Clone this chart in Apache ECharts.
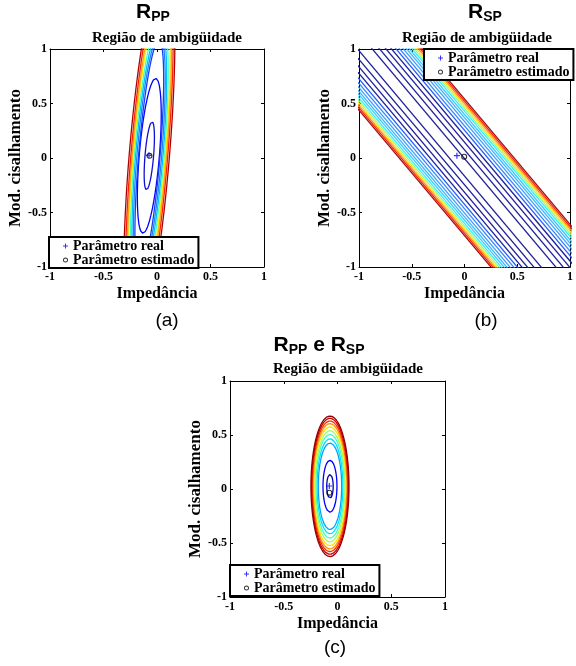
<!DOCTYPE html>
<html>
<head>
<meta charset="utf-8">
<title>Região de ambigüidade</title>
<script src="https://cdn.jsdelivr.net/npm/echarts@6/dist/echarts.min.js"></script>
<style>
html, body { margin: 0; padding: 0; background: #fff; }
#chart { width: 576px; height: 666px; }
</style>
</head>
<body>
<div id="chart"></div>
<script>
// axis range / ticks (same on every panel)
var axisMin = -1, axisMax = 1, axisStep = 0.5;

// (a) R_PP : tilted ellipses (centre, tilt = dx per unit of y)
var ppCenter = [-0.072, 0.02];
var ppTilt = 0.085;
var ppMinor = [0.04, 0.094, 0.10, 0.115, 0.128, 0.14, 0.15, 0.16, 0.172, 0.188];
var ppMajor = [0.314, 0.713, 1.064, 1.116, 1.185, 1.279, 1.474, 1.57, 1.69, 1.757];
var ppColors = ['#1010d0', '#0000ff', '#1040ff', '#2080ff', '#00c0ff', '#40ffc0',
                '#f0f000', '#ffa000', '#ff2000', '#b00000'];
var ppReal = [-0.075, 0.025];
var ppEst = [-0.07, 0.02];

// (b) R_SP : parallel lines  y = intercept + slope*x +/- offset
var spSlope = -1.15;
var spIntercept = -0.085;
var spOffset = [0.08, 0.16, 0.23, 0.29, 0.34, 0.38, 0.42, 0.455, 0.485, 0.515,
                0.54, 0.563, 0.585, 0.606, 0.627];
var spColors = ['#20209a', '#20209a', '#20209a', '#20209a', '#2060ff', '#3888ff', '#40a0ff',
                '#40b4ff', '#40c8ff', '#30f0ff', '#90ff90', '#ffe020', '#ff9010', '#ff2010', '#a01010'];
var spReal = [-0.072, 0.021];
var spEst = [-0.003, 0.012];

// (c) R_PP e R_SP : upright ellipses
var jCenter = [-0.07, 0.025];
var jMajor = [0.11, 0.24, 0.40, 0.44, 0.48, 0.515, 0.55, 0.58, 0.605, 0.63, 0.651];
var jMinor = [0.03, 0.065, 0.109, 0.12, 0.131, 0.14, 0.15, 0.158, 0.165, 0.171, 0.177];
var jColors = ['#0000b0', '#0000ff', '#00a0ff', '#00e0ff', '#40ffc0', '#a0ff60',
               '#ffe000', '#ff9000', '#ff3000', '#d00000', '#900000'];
var jReal = [-0.076, 0.028];
var jEst = [-0.076, -0.034];

var grids = [
  { left: 50, top: 49, width: 214, height: 218 },
  { left: 359, top: 49, width: 214, height: 218 },
  { left: 230, top: 381, width: 215, height: 216 }
];

var serif = 'Liberation Serif';
var sans = 'Liberation Sans';
var plusPath = 'path://M2,0H3V2H5V3H3V5H2V3H0V2H2Z';
var ringPath = 'path://M5,0A5,5,0,1,1,5,10A5,5,0,1,1,5,0ZM5,1.8A3.2,3.2,0,1,0,5,8.2A3.2,3.2,0,1,0,5,1.8Z';

function ellipse(c, tilt, a, b) {
  var n = Math.sqrt(1 + tilt * tilt);
  var dx = tilt / n, dy = 1 / n, px = 1 / n, py = -tilt / n;
  var pts = [];
  for (var i = 0; i <= 180; i++) {
    var t = i / 180 * 2 * Math.PI;
    var u = b * Math.cos(t), v = a * Math.sin(t);
    pts.push([c[0] + u * px + v * dx, c[1] + u * py + v * dy]);
  }
  return pts;
}

function contour(idx, data, color) {
  return {
    type: 'line', xAxisIndex: idx * 2, yAxisIndex: idx * 2,
    data: data, showSymbol: false, symbol: 'none', silent: true,
    animation: false, clip: true, z: 2,
    lineStyle: { color: color, width: 1.3 }
  };
}

var series = [];
ppMajor.forEach(function (a, i) {
  series.push(contour(0, ellipse(ppCenter, ppTilt, a, ppMinor[i]), ppColors[i]));
});
spOffset.forEach(function (h, i) {
  [1, -1].forEach(function (s) {
    series.push(contour(1, [[-1.5, spIntercept + spSlope * -1.5 + s * h],
                            [1.5, spIntercept + spSlope * 1.5 + s * h]], spColors[i]));
  });
});
jMajor.forEach(function (a, i) {
  series.push(contour(2, ellipse(jCenter, 0, a, jMinor[i]), jColors[i]));
});

[[ppReal, ppEst], [spReal, spEst], [jReal, jEst]].forEach(function (m, i) {
  series.push({
    name: 'Parâmetro estimado', type: 'scatter', xAxisIndex: i * 2, yAxisIndex: i * 2,
    data: [m[1]], symbol: ringPath, symbolSize: 6, z: 5, silent: true,
    itemStyle: { color: '#000' }
  });
  series.push({
    name: 'Parâmetro real', type: 'scatter', xAxisIndex: i * 2, yAxisIndex: i * 2,
    data: [m[0]], symbol: plusPath, symbolSize: 6, z: 6, silent: true,
    itemStyle: { color: '#0000ff' }
  });
});

function axis(dim, idx, pos, main) {
  var o = {
    type: 'value', gridIndex: idx, position: pos,
    min: axisMin, max: axisMax, interval: axisStep,
    axisLine: { show: true, onZero: false, lineStyle: { color: '#000', width: 1 } },
    axisTick: { show: true, inside: true, length: 3, lineStyle: { color: '#000' } },
    splitLine: { show: false },
    axisLabel: {
      show: main, color: '#000', fontFamily: serif, fontWeight: 'bold', fontSize: 12,
      margin: dim === 'x' ? 4 : 3
    }
  };
  if (main) {
    o.name = dim === 'x' ? 'Impedância' : 'Mod. cisalhamento';
    o.nameLocation = 'middle';
    o.nameGap = dim === 'x' ? 19 : 18;
    o.nameTextStyle = { color: '#000', fontFamily: serif, fontWeight: 'bold',
                        fontSize: dim === 'x' ? 16 : 17 };
  }
  return o;
}

var xAxes = [], yAxes = [];
grids.forEach(function (g, i) {
  xAxes.push(axis('x', i, 'bottom', true));
  xAxes.push(axis('x', i, 'top', false));
  yAxes.push(axis('y', i, 'left', true));
  yAxes.push(axis('y', i, 'right', false));
});

var richTitle = {
  r: { fontFamily: sans, fontWeight: 'bold', fontSize: 21, color: '#000', verticalAlign: 'bottom', padding: [0, 0, 1, 0] },
  s: { fontFamily: sans, fontWeight: 'bold', fontSize: 14, color: '#000', verticalAlign: 'bottom' }
};
function heading(text, x, y) {
  return { text: text, left: x, top: y, textAlign: 'center', padding: 0,
           textStyle: { rich: richTitle } };
}
function subtitle(x, y) {
  return { text: 'Região de ambigüidade', left: x, top: y, textAlign: 'center', padding: 0,
           textStyle: { fontFamily: serif, fontWeight: 'bold', fontSize: 15, color: '#000' } };
}
function letter(text, x, y) {
  return { text: text, left: x, top: y, textAlign: 'center', padding: 0,
           textStyle: { fontFamily: sans, fontWeight: 'normal', fontSize: 19, color: '#000' } };
}

function legend(x, y) {
  return {
    left: x, top: y, orient: 'vertical', selectedMode: false,
    data: ['Parâmetro real', 'Parâmetro estimado'],
    backgroundColor: '#fff', borderColor: '#000', borderWidth: 2, borderRadius: 0,
    padding: [2, 4, 1, 14], itemGap: 0, itemWidth: 5, itemHeight: 5,
    textStyle: { fontFamily: serif, fontWeight: 'bold', fontSize: 14, lineHeight: 14, color: '#000' }
  };
}

var chart = echarts.init(document.getElementById('chart'));
chart.setOption({
  animation: false,
  backgroundColor: '#fff',
  title: [
    heading('{r|R}{s|PP}', 153, 2),
    heading('{r|R}{s|SP}', 485, 2),
    heading('{r|R}{s|PP}{r| e R}{s|SP}', 319, 335),
    subtitle(167, 31),
    subtitle(477, 31),
    subtitle(348, 362),
    letter('(a)', 167, 311),
    letter('(b)', 486, 311),
    letter('(c)', 335, 638)
  ],
  legend: [legend(49, 237), legend(424, 49), legend(230, 565)],
  grid: grids,
  xAxis: xAxes,
  yAxis: yAxes,
  series: series
});
</script>
</body>
</html>
